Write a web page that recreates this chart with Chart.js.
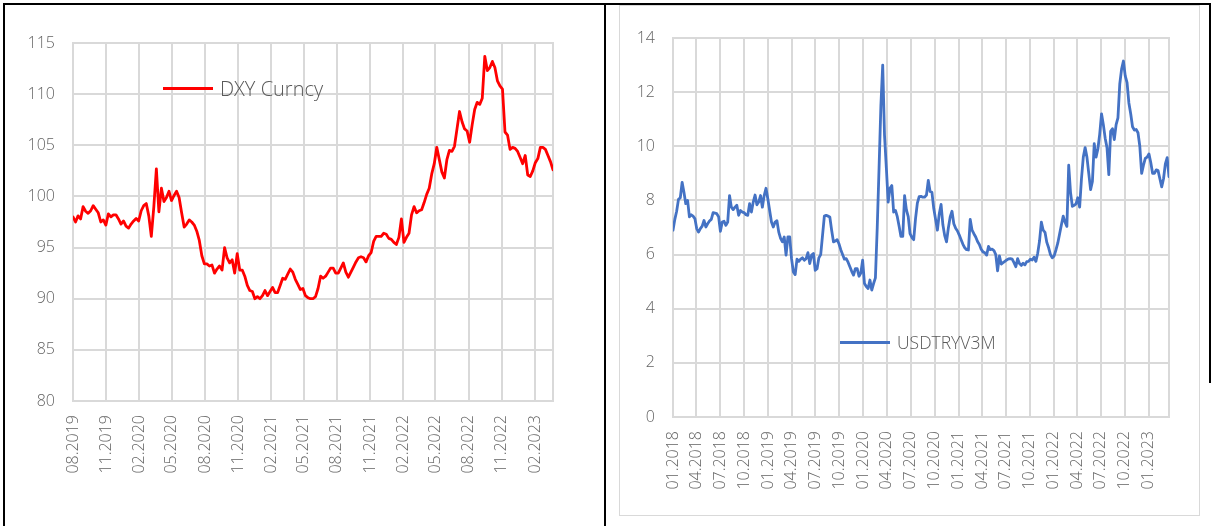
<!DOCTYPE html>
<html>
<head>
<meta charset="utf-8">
<title>DXY Curncy / USDTRYV3M</title>
<script src="https://cdn.jsdelivr.net/npm/chart.js@4.4.0/dist/chart.umd.min.js"></script>
<style>
  html, body { margin: 0; padding: 0; background: #ffffff; }
  body { width: 1214px; height: 526px; position: relative; overflow: hidden; font-family: 'Open Sans', 'DejaVu Sans', sans-serif; }
  .panel { position: absolute; top: 0; height: 526px; }
  #leftPanel { left: 0; width: 606px; }
  #rightPanel { left: 606px; width: 608px; }
  .panel canvas { position: absolute; left: 0; top: 0; }
  .rule { position: absolute; background: #000000; pointer-events: none; }
  .box { position: absolute; border: 1px solid #d9d9d9; pointer-events: none; box-sizing: border-box; }
  .legend { position: absolute; display: flex; align-items: center; color: #595959; font-weight: 300; white-space: nowrap; pointer-events: none; }
  .legend .swatch { display: inline-block; height: 3px; margin-right: 7px; }
</style>
</head>
<body>
  <div class="rule" style="left:3px; top:3px; width:1208px; height:2px;"></div>
  <div class="rule" style="left:3px; top:3px; width:2px; height:523px;"></div>
  <div class="rule" style="left:604px; top:3px; width:2px; height:523px;"></div>
  <div class="rule" style="left:1209px; top:3px; width:2px; height:380px;"></div>
  <div class="box" style="left:619px; top:5px; width:581px; height:511px;"></div>

  <div class="panel" id="leftPanel"><canvas id="dxyChart" width="606" height="526"></canvas></div>
  <div class="panel" id="rightPanel"><canvas id="tryChart" width="608" height="526"></canvas></div>

  <div class="legend" id="dxyLegend" style="left:163px; top:75px; font-size:20px;"></div>
  <div class="legend" id="tryLegend" style="left:840px; top:330px; font-size:17.5px;"></div>

<script>
// ---- US Dollar Index, weekly closes ----
const dxyName = 'DXY Curncy';
const dxyStart = '2019-08-02';
const dxyTicks = ['08.2019', '11.2019', '02.2020', '05.2020', '08.2020', '11.2020', '02.2021', '05.2021',
                  '08.2021', '11.2021', '02.2022', '05.2022', '08.2022', '11.2022', '02.2023'];
const dxyValues = [
  98.0, 97.5, 98.1, 97.8, 99.0, 98.55, 98.35, 98.6, 99.1, 98.75,
  98.4, 97.5, 97.7, 97.2, 98.3, 98.0, 98.2, 98.2, 97.8, 97.3,
  97.6, 97.1, 96.9, 97.3, 97.6, 97.85, 97.6, 98.6, 99.1, 99.3,
  98.1, 96.1, 99.0, 102.7, 98.5, 100.8, 99.5, 99.9, 100.5, 99.6,
  100.1, 100.5, 99.9, 98.4, 97.0, 97.3, 97.7, 97.5, 97.2, 96.6,
  95.7, 94.2, 93.4, 93.4, 93.2, 93.3, 92.5, 92.9, 93.2, 92.8,
  95.0, 94.0, 93.5, 93.8, 92.5, 94.4, 92.8, 92.8, 92.2, 91.3,
  90.8, 90.7, 90.0, 90.2, 90.0, 90.3, 90.8, 90.3, 90.7, 91.1,
  90.6, 90.6, 91.3, 92.0, 91.9, 92.4, 92.9, 92.6, 91.9, 91.4,
  90.9, 91.0, 90.3, 90.1, 90.0, 90.0, 90.2, 91.0, 92.2, 92.0,
  92.2, 92.6, 93.0, 93.0, 92.5, 92.5, 93.0, 93.5, 92.6, 92.1,
  92.6, 93.1, 93.6, 94.0, 94.1, 94.0, 93.6, 94.2, 94.5, 95.6,
  96.1, 96.1, 96.1, 96.4, 96.3, 95.9, 95.8, 95.5, 95.3, 96.0,
  97.8, 95.5, 96.0, 96.4, 98.2, 99.0, 98.4, 98.6, 98.7, 99.4,
  100.2, 100.8, 102.2, 103.2, 104.8, 103.6, 102.4, 101.8, 103.6, 104.5,
  104.4, 104.9, 106.6, 108.3, 107.3, 106.6, 106.4, 105.3, 107.0, 108.5,
  109.2, 109.0, 109.6, 113.7, 112.3, 112.6, 113.2, 112.6, 111.3, 110.8,
  110.5, 106.3, 106.0, 104.6, 104.8, 104.7, 104.4, 103.8, 103.2, 104.0,
  102.1, 101.95, 102.5, 103.3, 103.7, 104.8, 104.8, 104.6, 104.0, 103.4,
  102.6
];

// ---- USD/TRY 3-month implied volatility, weekly ----
const tryName = 'USDTRYV3M';
const tryStart = '2018-01-05';
const tryTicks = ['01.2018', '04.2018', '07.2018', '10.2018', '01.2019', '04.2019', '07.2019', '10.2019',
                  '01.2020', '04.2020', '07.2020', '10.2020', '01.2021', '04.2021', '07.2021', '10.2021',
                  '01.2022', '04.2022', '07.2022', '10.2022', '01.2023'];
const tryValues = [
  6.9, 7.3, 7.6, 8.04, 8.1, 8.67, 8.3, 7.88, 8.0, 7.39,
  7.47, 7.42, 7.33, 6.96, 6.83, 6.96, 7.05, 7.26, 7.02, 7.14,
  7.24, 7.3, 7.55, 7.53, 7.51, 7.4, 6.86, 7.2, 7.23, 7.08,
  7.2, 8.18, 7.75, 7.66, 7.75, 7.82, 7.45, 7.63, 7.57, 7.55,
  7.47, 7.45, 7.88, 7.57, 7.94, 8.2, 7.84, 7.94, 8.18, 7.75,
  8.18, 8.45, 8.06, 7.63, 7.2, 7.02, 7.2, 7.25, 6.83, 6.6,
  6.47, 6.65, 5.98, 6.65, 6.65, 5.85, 5.36, 5.26, 5.83, 5.75,
  5.83, 5.88, 5.79, 5.85, 6.07, 5.67, 5.98, 6.04, 5.42, 5.48,
  5.88, 6.0, 6.71, 7.42, 7.45, 7.42, 7.39, 6.9, 6.47, 6.5,
  6.55, 6.4, 6.18, 6.0, 5.83, 5.85, 5.72, 5.55, 5.38, 5.24,
  5.48, 5.48, 5.2, 5.32, 5.79, 4.93, 4.82, 4.75, 5.06, 4.69,
  4.93, 5.14, 7.0, 9.2, 11.5, 13.0, 10.4, 9.2, 7.94, 8.45,
  8.55, 7.57, 7.63, 7.4, 7.05, 6.67, 6.67, 8.18, 7.65, 7.4,
  6.77, 6.63, 6.55, 7.33, 7.9, 8.14, 8.15, 8.12, 8.12, 8.2,
  8.74, 8.33, 8.3, 7.7, 7.3, 6.9, 7.5, 7.85, 7.1, 6.7,
  6.47, 6.98, 7.39, 7.6, 7.14, 6.97, 6.87, 6.72, 6.55, 6.38,
  6.25, 6.18, 6.17, 7.3, 6.9, 6.77, 6.65, 6.48, 6.37, 6.2,
  6.1, 6.07, 5.98, 6.3, 6.18, 6.2, 6.15, 6.0, 5.4, 5.95,
  5.65, 5.7, 5.75, 5.8, 5.84, 5.85, 5.83, 5.7, 5.55, 5.85,
  5.67, 5.6, 5.68, 5.62, 5.74, 5.75, 5.83, 5.8, 5.9, 5.75,
  6.05, 6.5, 7.2, 6.9, 6.82, 6.45, 6.25, 6.0, 5.88, 5.95,
  6.17, 6.42, 6.76, 7.1, 7.42, 7.2, 7.04, 9.3, 8.3, 7.78,
  7.82, 7.87, 8.1, 7.75, 8.8, 9.6, 9.95, 9.6, 9.0, 8.4,
  8.7, 10.1, 9.6, 9.9, 10.45, 11.2, 10.8, 10.3, 9.95, 8.95,
  10.55, 10.65, 10.25, 10.8, 11.05, 12.3, 12.85, 13.15, 12.6, 12.35,
  11.6, 11.2, 10.72, 10.6, 10.62, 10.5, 10.0, 9.0, 9.3, 9.55,
  9.6, 9.72, 9.4, 9.0, 9.0, 9.13, 9.1, 8.8, 8.5, 8.8,
  9.35, 9.58, 8.88
];

const DAY_MS = 86400000;

// Days between the series start and the same day-of-month in the labelled month ("mm.yyyy").
function tickDay(startIso, label) {
  const start = new Date(startIso + 'T00:00:00Z');
  const [mm, yyyy] = label.split('.').map(Number);
  return (Date.UTC(yyyy, mm - 1, start.getUTCDate()) - start.getTime()) / DAY_MS;
}

// Weekly observations placed on a day axis.
function weeklyPoints(values) {
  return values.map((v, i) => ({ x: i * 7, y: v }));
}

const TEXT_GREY = '#646464';
const GRID_GREY = '#d9d9d9';

// Outline of the plotting area (right edge has no grid line of its own).
const plotFrame = {
  id: 'plotFrame',
  beforeDatasetsDraw(chart) {
    const { ctx, chartArea: a } = chart;
    ctx.save();
    ctx.strokeStyle = GRID_GREY;
    ctx.lineWidth = 2;
    ctx.strokeRect(a.left, a.top, a.right - a.left, a.bottom - a.top);
    ctx.restore();
  }
};

function buildChart(canvasId, cfg) {
  const tickValues = cfg.ticks.map(t => tickDay(cfg.start, t));
  const lastDay = (cfg.values.length - 1) * 7;
  return new Chart(document.getElementById(canvasId), {
    type: 'line',
    data: {
      datasets: [{
        label: cfg.name,
        data: weeklyPoints(cfg.values),
        borderColor: cfg.color,
        borderWidth: 2.8,
        pointRadius: 0,
        tension: 0,
        fill: false,
        borderJoinStyle: 'round',
        borderCapStyle: 'round'
      }]
    },
    options: {
      responsive: false,
      animation: false,
      events: [],
      layout: { padding: { top: cfg.area.top, right: cfg.area.right, left: 0, bottom: 0 } },
      plugins: { legend: { display: false }, tooltip: { enabled: false } },
      scales: {
        x: {
          type: 'linear',
          min: 0,
          max: lastDay,
          afterBuildTicks(scale) { scale.ticks = tickValues.map(v => ({ value: v })); },
          afterFit(scale) { scale.height = cfg.area.xAxisHeight; },
          grid: { color: GRID_GREY, lineWidth: 2, drawTicks: false },
          border: { display: true, color: GRID_GREY, width: 2 },
          ticks: {
            autoSkip: false,
            minRotation: 90,
            maxRotation: 90,
            padding: cfg.area.xPad,
            color: TEXT_GREY,
            font: { family: "'Open Sans', sans-serif", size: 16, weight: '300' },
            callback: (value, index) => cfg.ticks[index]
          }
        },
        y: {
          min: cfg.yMin,
          max: cfg.yMax,
          afterFit(scale) { scale.width = cfg.area.left; },
          grid: { color: GRID_GREY, lineWidth: 2, drawTicks: false },
          border: { display: true, color: GRID_GREY, width: 2 },
          ticks: {
            stepSize: cfg.yStep,
            padding: cfg.area.yPad,
            color: TEXT_GREY,
            font: { family: "'Open Sans', sans-serif", size: 16, weight: '300' }
          }
        }
      }
    },
    plugins: [plotFrame]
  });
}

function buildLegend(elId, name, color) {
  const el = document.getElementById(elId);
  const swatch = document.createElement('span');
  swatch.className = 'swatch';
  swatch.style.width = '50px';
  swatch.style.background = color;
  const text = document.createElement('span');
  text.textContent = name;
  el.appendChild(swatch);
  el.appendChild(text);
}

buildChart('dxyChart', {
  name: dxyName, color: '#ff0000', start: dxyStart, ticks: dxyTicks, values: dxyValues,
  yMin: 80, yMax: 115, yStep: 5,
  area: { top: 43, right: 53, left: 73, xAxisHeight: 125, xPad: 14, yPad: 18 }
});
buildChart('tryChart', {
  name: tryName, color: '#4472c4', start: tryStart, ticks: tryTicks, values: tryValues,
  yMin: 0, yMax: 14, yStep: 2,
  area: { top: 38, right: 45, left: 67, xAxisHeight: 109, xPad: 14, yPad: 18 }
});

buildLegend('dxyLegend', dxyName, '#ff0000');
buildLegend('tryLegend', tryName, '#4472c4');
</script>
</body>
</html>
